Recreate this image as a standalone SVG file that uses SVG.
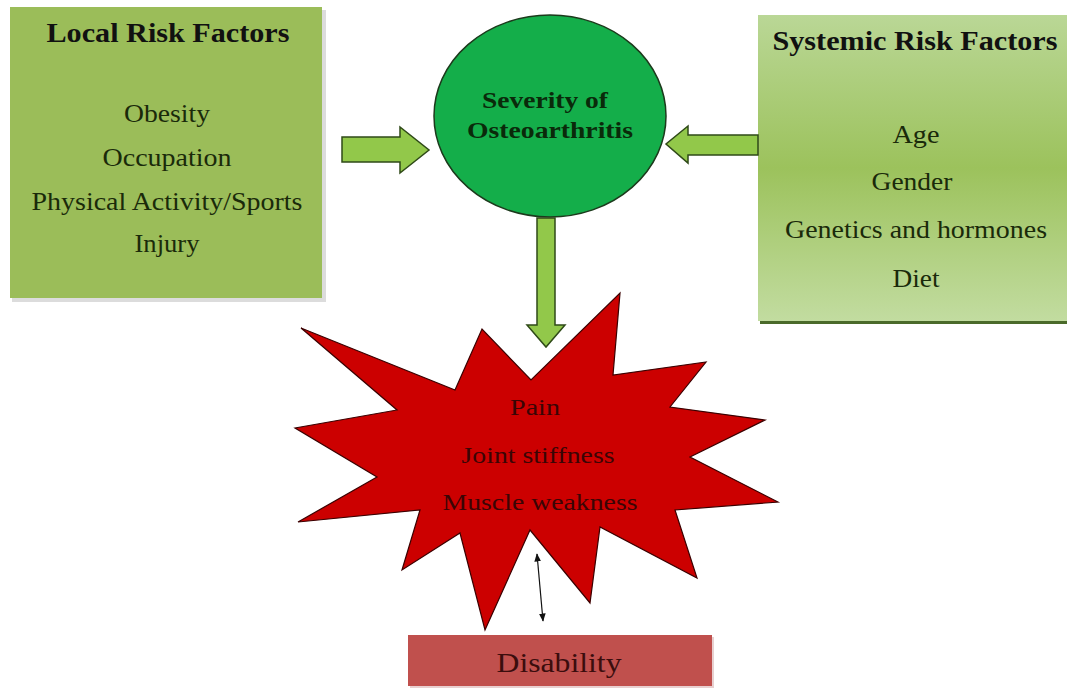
<svg xmlns="http://www.w3.org/2000/svg" width="1067" height="691" viewBox="0 0 1067 691">
<style>
text{font-family:"Liberation Serif","Times New Roman",serif;text-anchor:middle}
.h{font-weight:bold;font-size:27px;fill:#111}
.it{font-size:25px;fill:#1a2a0a}
.arr{fill:#92c84a;stroke:#2f4a18;stroke-width:1.5}
.st{font-size:24px;fill:#3a0505}
</style>
<defs>
<linearGradient id="sys" x1="0" y1="0" x2="0" y2="1">
<stop offset="0" stop-color="#bad796"/>
<stop offset="0.5" stop-color="#9cc25c"/>
<stop offset="1" stop-color="#c2dca0"/>
</linearGradient>
<marker id="ah" viewBox="0 0 10 10" refX="9" refY="5" markerWidth="7" markerHeight="7" orient="auto-start-reverse">
<path d="M0,1 L10,5 L0,9 z" fill="#111"/>
</marker>
</defs>
<rect width="1067" height="691" fill="#fff"/>
<g id="local">
<rect x="12" y="10" width="314" height="292" fill="#dcdcdc"/>
<rect x="10" y="7" width="312" height="291" fill="#9bbd59"/>
<text class="h" x="168" y="42" textLength="243" lengthAdjust="spacingAndGlyphs">Local Risk Factors</text>
<text class="it" x="167" y="122" textLength="86" lengthAdjust="spacingAndGlyphs">Obesity</text>
<text class="it" x="167" y="166" textLength="129" lengthAdjust="spacingAndGlyphs">Occupation</text>
<text class="it" x="167" y="210" textLength="271" lengthAdjust="spacingAndGlyphs">Physical Activity/Sports</text>
<text class="it" x="167" y="252" textLength="65" lengthAdjust="spacingAndGlyphs">Injury</text>
</g>
<g id="systemic">
<rect x="760" y="17" width="310" height="307" fill="#4a6a2a"/>
<rect x="758" y="15" width="312" height="306" fill="url(#sys)"/>
<text class="h" x="915" y="50" textLength="285" lengthAdjust="spacingAndGlyphs">Systemic Risk Factors</text>
<text class="it" x="916" y="143" textLength="47" lengthAdjust="spacingAndGlyphs">Age</text>
<text class="it" x="912" y="190" textLength="81" lengthAdjust="spacingAndGlyphs">Gender</text>
<text class="it" x="916" y="238" textLength="262" lengthAdjust="spacingAndGlyphs">Genetics and hormones</text>
<text class="it" x="916" y="287" textLength="47" lengthAdjust="spacingAndGlyphs">Diet</text>
</g>
<g id="severity">
<ellipse cx="550" cy="116" rx="116" ry="101" fill="#14ae4a" stroke="#1c3a1c" stroke-width="1.5"/>
<text class="h" x="545" y="108" textLength="126" lengthAdjust="spacingAndGlyphs" style="font-size:24px;fill:#0a2a0a">Severity of</text>
<text class="h" x="550" y="138" textLength="166" lengthAdjust="spacingAndGlyphs" style="font-size:24px;fill:#0a2a0a">Osteoarthritis</text>
</g>
<g id="connectors">
<path class="arr" d="M342,137 L400,137 L400,127 L429,150 L400,173 L400,162 L342,162 Z"/>
<path class="arr" d="M758,135 L688,135 L688,126 L666,144 L688,163 L688,155 L758,155 Z"/>
<line x1="537" y1="554" x2="543" y2="621" stroke="#111" stroke-width="1.2" marker-start="url(#ah)" marker-end="url(#ah)"/>
</g>
<g id="symptoms">
<path d="M301,328 L455,390 L482,329 L531,380 L620,293 L613,375 L706,362 L670,407 L765,420 L690,457 L778,502 L675,510 L697,578 L600,527 L590,603 L530,530 L485,630 L460,533 L402,570 L420,510 L298,522 L377,477 L295,428 L397,410 Z" fill="#cc0000" stroke="#3a0000" stroke-width="1.2"/>
<text class="st" x="535" y="415" textLength="50" lengthAdjust="spacingAndGlyphs">Pain</text>
<text class="st" x="538" y="463" textLength="153" lengthAdjust="spacingAndGlyphs">Joint stiffness</text>
<text class="st" x="540" y="510" textLength="195" lengthAdjust="spacingAndGlyphs">Muscle weakness</text>
</g>
<g id="down-arrow">
<path class="arr" d="M537,218 L555,218 L555,325 L565,325 L546,347 L527,325 L537,325 Z"/>
</g>
<g id="disability">
<rect x="410" y="637" width="304" height="51" fill="#e8d0d0"/>
<rect x="408" y="635" width="304" height="51" fill="#c0504d"/>
<text x="559" y="672" textLength="125" lengthAdjust="spacingAndGlyphs" style="font-size:28px;fill:#3b0d0d">Disability</text>
</g>
</svg>
